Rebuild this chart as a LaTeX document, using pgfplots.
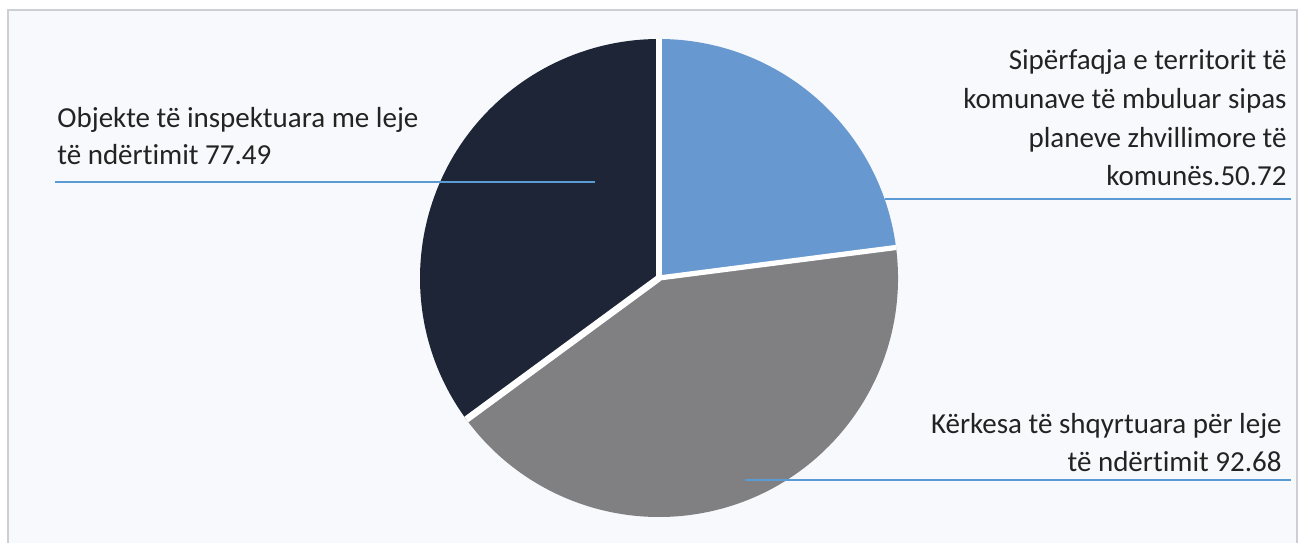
\documentclass[border=0pt]{standalone}
\usepackage{pgfplots}
\pgfplotsset{compat=1.18}
\usepackage{pgfplotstable}
\usepackage{fontspec}
\setmainfont[Ligatures={NoCommon}]{Carlito}
\definecolor{sliceblue}{RGB}{103,152,208}
\definecolor{slicegrey}{RGB}{128,128,131}
\definecolor{slicedark}{RGB}{29,37,55}
\definecolor{leader}{RGB}{91,155,213}
\definecolor{bg}{RGB}{247,249,252}
\definecolor{framec}{RGB}{205,207,212}
\definecolor{txt}{RGB}{35,35,35}

\pgfplotstableread{
value
50.72
92.68
77.49
}\piedata

\begin{document}
\begin{tikzpicture}
\pgfplotstablegetelem{0}{value}\of\piedata \let\va\pgfplotsretval
\pgfplotstablegetelem{1}{value}\of\piedata \let\vb\pgfplotsretval
\pgfplotstablegetelem{2}{value}\of\piedata \let\vc\pgfplotsretval
\pgfmathsetmacro\tot{\va+\vb+\vc}
\pgfmathsetmacro\fa{\va/\tot}
\pgfmathsetmacro\fb{\vb/\tot}
\pgfmathsetmacro\fc{\vc/\tot}
\pgfmathsetmacro\aA{90}
\pgfmathsetmacro\aB{90-360*\fa}
\pgfmathsetmacro\aC{\aB-360*\fb}
\pgfmathsetmacro\aD{\aC-360*\fc}
\begin{axis}[x=0.5pt,y=0.5pt,xmin=0,xmax=1304,ymin=0,ymax=542,
  hide axis,clip=false,enlargelimits=false]
% background and frame
\fill[white] (axis cs:0,0) rectangle (axis cs:1304,542);
\filldraw[fill=bg,draw=framec,line width=1pt] (axis cs:8,-20) rectangle (axis cs:1297,532);
% pie wedges
\def\cx{659}\def\cy{264}\def\R{119.5pt}
\fill[sliceblue] (axis cs:\cx,\cy) -- ++(\aA:\R) arc[start angle=\aA,end angle=\aB,radius=\R] -- cycle;
\fill[slicegrey] (axis cs:\cx,\cy) -- ++(\aB:\R) arc[start angle=\aB,end angle=\aC,radius=\R] -- cycle;
\fill[slicedark] (axis cs:\cx,\cy) -- ++(\aC:\R) arc[start angle=\aC,end angle=\aD,radius=\R] -- cycle;
\draw[white,line width=2.6pt,line join=round] (axis cs:\cx,\cy) -- ++(\aA:\R);
\draw[white,line width=2.6pt,line join=round] (axis cs:\cx,\cy) -- ++(\aB:\R);
\draw[white,line width=3.4pt,line join=round] (axis cs:\cx,\cy) -- ++(\aC:\R);
% leader lines
\draw[leader,line width=0.8pt] (axis cs:55,360) -- (axis cs:595,360);
\draw[leader,line width=0.8pt] (axis cs:885,343) -- (axis cs:1291,343);
\draw[leader,line width=0.8pt] (axis cs:745,62) -- (axis cs:1291,62);
% labels
\tikzset{lbl/.style={inner sep=0pt,text=txt,font=\fontsize{14.5}{17}\selectfont}}
\node[lbl,anchor=base west] at (axis cs:57,415) {Objekte të inspektuara me leje};
\node[lbl,anchor=base west] at (axis cs:57,378) {të ndërtimit 77.49};
\node[lbl,anchor=base east] at (axis cs:1287,472) {Sipërfaqja e territorit të};
\node[lbl,anchor=base east] at (axis cs:1287,434) {komunave të mbuluar sipas};
\node[lbl,anchor=base east] at (axis cs:1287,395) {planeve zhvillimore të};
\node[lbl,anchor=base east] at (axis cs:1287,357) {komunës.50.72};
\node[lbl,anchor=base east] at (axis cs:1282,109) {Kërkesa të shqyrtuara për leje};
\node[lbl,anchor=base east] at (axis cs:1282,71) {të ndërtimit 92.68};
\end{axis}
\pgfresetboundingbox
\path[use as bounding box] (current axis.south west) rectangle (current axis.north east);
\end{tikzpicture}
\end{document}
